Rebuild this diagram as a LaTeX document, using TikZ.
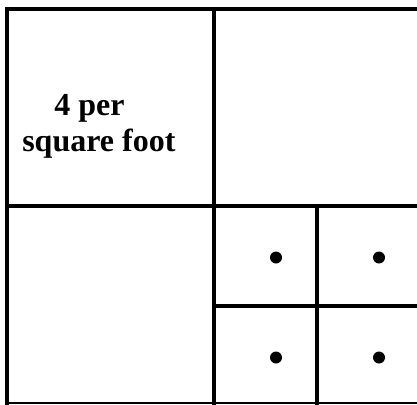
\documentclass[tikz,border=0pt]{standalone}
\usepackage{fontspec}
\setmainfont{Liberation Serif}
\usetikzlibrary{positioning}

\begin{document}
\begin{tikzpicture}[
    x=0.75pt, y=-0.75pt,
    wall/.style={line width=3pt, draw=black, line cap=rect},
    edge/.style={line width=0.8pt, draw=black},
    dot/.style={circle, fill=black, inner sep=0pt, minimum size=9pt},
  label/.style={font=\fontsize{24}{27}\selectfont\bfseries, align=left, inner sep=0pt}]

  % ---- page frame ----
  \useasboundingbox (0,0) rectangle (417,404);

  % ---- outer walls (top, left) and thin bottom edge ----
  \draw[wall] (417,9) -- (7,9) -- (7,403);
  \draw[edge] (7,403) -- (417,403);

  % ---- big quarters ----
  \draw[wall] (214,9) -- (214,403);
  \draw[wall] (7,206) -- (417,206);

  % ---- lower right quarter split in four ----
  \draw[wall] (317,206) -- (317,403);
  \draw[wall] (214,306) -- (417,306);

  % ---- text in upper left square ----
  \node[label, anchor=base west] (rate) at (22,151)
  {\hspace*{24pt}4 per\\square foot};

  % ---- one plant per small square ----
  \node[dot] (p1) at (276,257.5) {};
  \node[dot] (p2) at (379,257.5) {};
  \node[dot] (p3) at (276,357.5) {};
  \node[dot] (p4) at (379,357.5) {};
\end{tikzpicture}
\end{document}
